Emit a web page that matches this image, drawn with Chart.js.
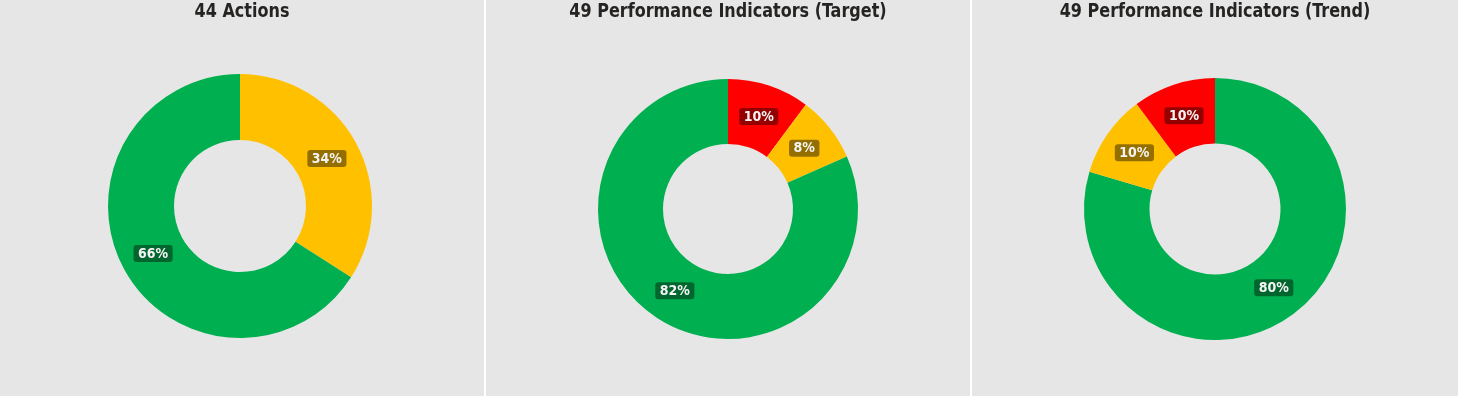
<!DOCTYPE html>
<html>
<head>
<meta charset="utf-8">
<script src="https://cdn.jsdelivr.net/npm/chart.js@4/dist/chart.umd.min.js"></script>
<style>
  html, body { margin: 0; padding: 0; background: #ffffff; }
  body { width: 1458px; height: 399px; position: relative; overflow: hidden; }
  .panel { position: absolute; top: 0; height: 396px; background: #e6e6e6; }
  .panel canvas { display: block; }
</style>
</head>
<body>
<div class="panel" style="left:0;width:484px"><canvas id="c1"></canvas></div>
<div class="panel" style="left:486px;width:484px"><canvas id="c2"></canvas></div>
<div class="panel" style="left:972px;width:486px"><canvas id="c3"></canvas></div>
<script>
// chart titles
var titles = ["44 Actions", "49 Performance Indicators (Target)", "49 Performance Indicators (Trend)"];

// Actions (clockwise from 12 o'clock)
var actionLabels = ["Amber", "Green"];
var actionCounts = [15, 29];

// Performance indicators vs target
var targetLabels = ["Red", "Amber", "Green"];
var targetCounts = [5, 4, 40];

// Performance indicators trend
var trendLabels = ["Green", "Amber", "Red"];
var trendCounts = [39, 5, 5];

var ragColours = { Red: '#ff0000', Amber: '#ffc000', Green: '#00b050' };
var fontStack = '"DejaVu Sans Condensed", Roboto, sans-serif';

// percentage badges drawn at the centre of each slice
var pctBadges = {
    id: 'pctBadges',
    afterDatasetsDraw: function(chart) {
        var ctx = chart.ctx;
        var data = chart.data.datasets[0].data;
        var total = data.reduce(function(a, b) { return a + b; }, 0);
        var meta = chart.getDatasetMeta(0);
        ctx.save();
        ctx.font = 'bold 14px ' + fontStack;
        ctx.textAlign = 'center';
        ctx.textBaseline = 'middle';
        meta.data.forEach(function(arc, i) {
            var p = arc.tooltipPosition();
            var txt = Math.round(data[i] / total * 100) + '%';
            var w = ctx.measureText(txt).width + 9;
            var h = 17;
            ctx.fillStyle = 'rgba(0,0,0,0.42)';
            ctx.beginPath();
            ctx.roundRect(p.x - w / 2, p.y - h / 2, w, h, 3);
            ctx.fill();
            ctx.fillStyle = '#f4f4f4';
            ctx.fillText(txt, p.x, p.y + 0.5);
        });
        ctx.restore();
    }
};

// bold condensed title across the top of each panel
var panelTitle = {
    id: 'panelTitle',
    afterDraw: function(chart, args, opts) {
        var ctx = chart.ctx;
        ctx.save();
        ctx.font = 'bold 20px ' + fontStack;
        ctx.fillStyle = '#252423';
        ctx.textAlign = 'center';
        ctx.textBaseline = 'middle';
        ctx.translate(chart.width / 2, 11.5);
        ctx.scale(0.89, 1);
        ctx.fillText(opts.text, 0, 0);
        ctx.restore();
    }
};

function makeDonut(id, title, labels, values, padTop, padBottom, padRight) {
    new Chart(document.getElementById(id), {
        type: 'doughnut',
        data: {
            labels: labels,
            datasets: [{
                data: values,
                backgroundColor: labels.map(function(l) { return ragColours[l]; }),
                borderWidth: 0
            }]
        },
        options: {
            responsive: true,
            maintainAspectRatio: false,
            animation: false,
            cutout: '50%',
            layout: { padding: { top: padTop, bottom: padBottom, left: 0, right: padRight } },
            plugins: {
                legend: { display: false },
                tooltip: { enabled: false },
                title: { display: false },
                panelTitle: { text: title }
            }
        },
        plugins: [pctBadges, panelTitle]
    });
}

makeDonut('c1', titles[0], actionLabels, actionCounts, 74, 58, 4);
makeDonut('c2', titles[1], targetLabels, targetCounts, 79, 57, 0);
makeDonut('c3', titles[2], trendLabels, trendCounts, 78, 56, 0);
</script>
</body>
</html>
